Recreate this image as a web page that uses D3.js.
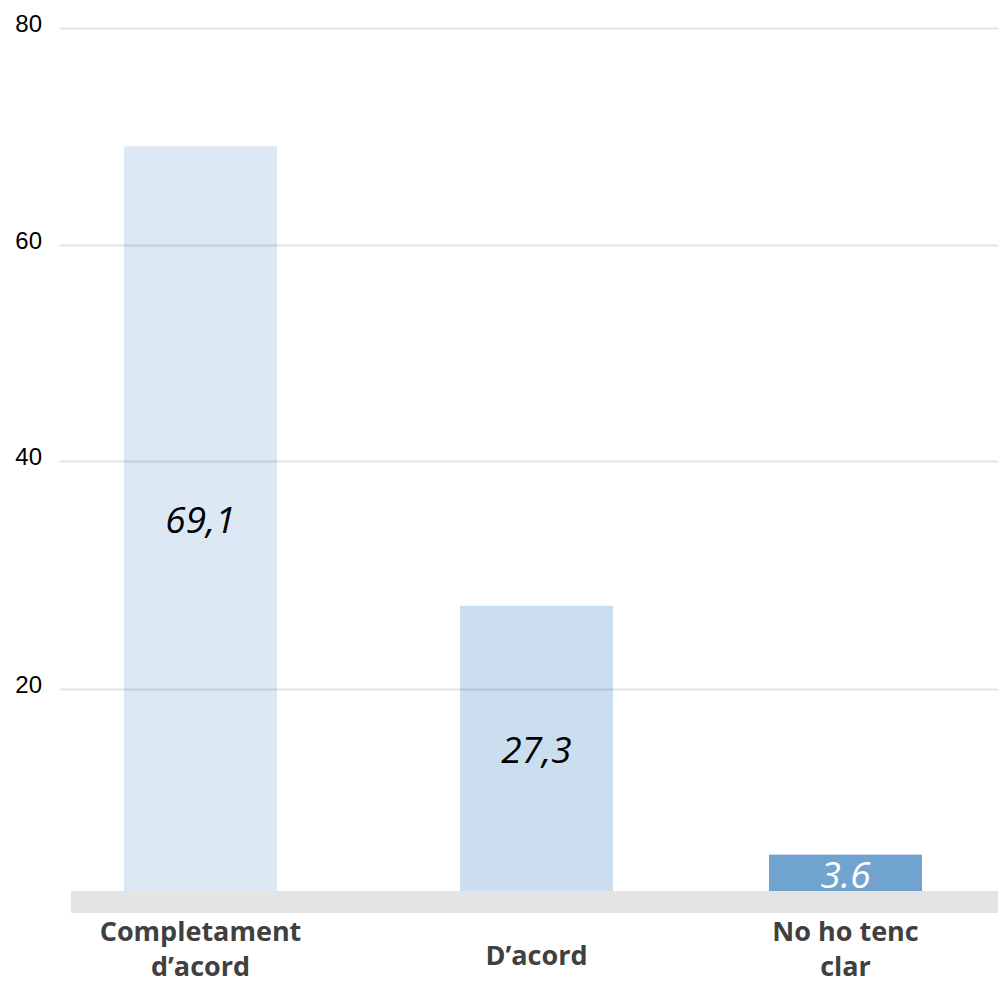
<!DOCTYPE html>
<html>
<head>
<meta charset="utf-8">
<script src="https://cdn.jsdelivr.net/npm/d3@7"></script>
<style>
  html, body { margin: 0; padding: 0; background: #ffffff; }
  svg { display: block; }
</style>
</head>
<body>
<svg id="chart" width="998" height="984"></svg>
<script>
// categories (each split over lines), values and the labels as printed
const categories = [["Completament", "d\u2019acord"], ["D\u2019acord"], ["No ho tenc", "clar"]];
const values = [69.1, 27.3, 3.6];
const valueLabels = ["69,1", "27,3", "3.6"];
const barColors = ["#dce9f5", "#cbdeef", "#71a3cf"];
const labelColors = ["#000000", "#000000", "#ffffff"];
const yTicks = [20, 40, 60, 80];

const width = 998;
const height = 984;
const barWidth = 153;
const svg = d3.select("#chart");

// back wall of the 3d chart is not evenly spaced, so a polylinear scale
const y = d3.scaleLinear()
  .domain([0, 20, 40, 60, 80])
  .range([891, 689, 461, 245, 28]);

// perspective makes the column centres uneven too
const x = d3.scaleOrdinal()
  .domain(d3.range(values.length))
  .range([200.5, 536.5, 845.5]);

// bars
svg.append("g")
  .selectAll("rect")
  .data(values)
  .join("rect")
  .attr("x", (d, i) => x(i) - barWidth / 2)
  .attr("width", barWidth)
  .attr("y", (d) => y(d))
  .attr("height", (d) => y(0) - y(d))
  .attr("fill", (d, i) => barColors[i]);

// grid + tick labels
svg.append("g")
  .attr("transform", "translate(60,0)")
  .call(d3.axisLeft(y).tickValues(yTicks).tickSize(-(width - 60)).tickPadding(18))
  .call((g) => g.select(".domain").remove())
  .call((g) => g.selectAll("line").attr("stroke", "#000").attr("stroke-opacity", 0.11).attr("stroke-width", 2))
  .call((g) => g.selectAll("text")
    .style("font-family", "'Liberation Sans', Arial, sans-serif")
    .style("font-size", "24px")
    .attr("fill", "#000")
    .attr("dy", "0.15em"));

// value labels in the middle of each bar
svg.append("g")
  .selectAll("text")
  .data(values)
  .join("text")
  .attr("x", (d, i) => x(i))
  .attr("y", (d) => (y(d) + y(0)) / 2)
  .attr("dy", "0.4em")
  .attr("text-anchor", "middle")
  .attr("font-family", "'Open Sans', sans-serif")
  .attr("font-style", "italic")
  .attr("font-size", 37)
  .attr("fill", (d, i) => labelColors[i])
  .text((d, i) => valueLabels[i]);

// floor
svg.append("rect")
  .attr("x", 71)
  .attr("y", y(0))
  .attr("width", width - 71)
  .attr("height", 22)
  .attr("fill", "#e4e4e4");

// category labels
const cat = svg.append("g")
  .selectAll("text")
  .data(categories)
  .join("text")
  .attr("text-anchor", "middle")
  .attr("font-family", "'Open Sans', sans-serif")
  .attr("font-weight", "bold")
  .attr("font-size", 27)
  .attr("fill", "#404040")
  .attr("transform", (d, i) => `translate(${x(i)},${d.length > 1 ? 941 : 965})`);

cat.selectAll("tspan")
  .data((d) => d)
  .join("tspan")
  .attr("x", 0)
  .attr("dy", (d, j) => (j === 0 ? 0 : 35))
  .text((d) => d);
</script>
</body>
</html>
